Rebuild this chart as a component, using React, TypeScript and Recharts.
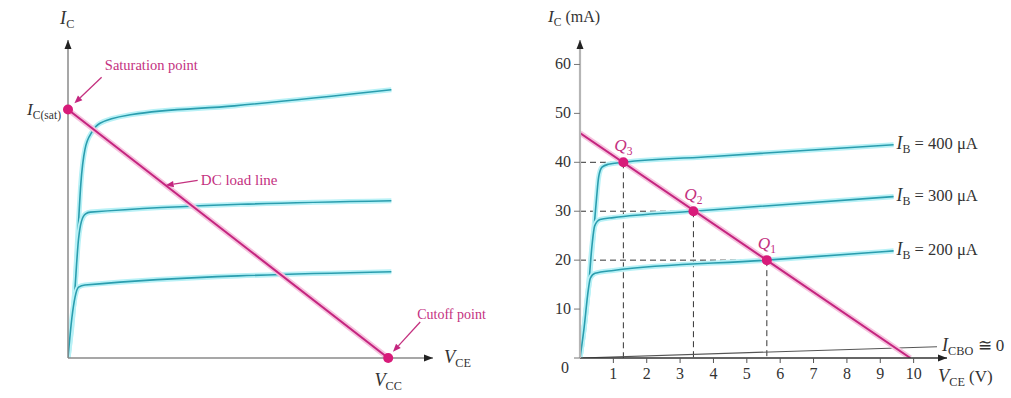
import { LineChart, Line, XAxis, YAxis, ReferenceLine, ReferenceDot } from "recharts";

// ---- left panel: qualitative (VCC = 10, IC(sat) = 10 in arbitrary units)
const leftTop = [
  [0, 0], [0.19, 2.3], [0.33, 5.5], [0.4, 7.0], [0.53, 8.4], [0.75, 9.1], [1, 9.45],
  [2, 9.8], [5.2, 10.15], [10.1, 10.8],
];
const leftMid = [
  [0, 0], [0.19, 2.3], [0.33, 4.8], [0.42, 5.5], [0.55, 5.8], [0.7, 5.87], [10.1, 6.33],
];
const leftLow = [
  [0, 0], [0.12, 1.6], [0.22, 2.45], [0.33, 2.85], [0.53, 2.94], [10.1, 3.47],
];
const leftLoad = [[0, 10], [10, 0]];

// ---- right panel: IC (mA) vs VCE (V)
const ib400 = [
  [0, 0], [0.12, 6], [0.25, 14], [0.4, 25], [0.5, 33], [0.56, 37], [0.66, 39],
  [0.85, 39.6], [1.3, 40], [4, 41.2], [9.4, 43.6],
];
const ib300 = [
  [0, 0], [0.12, 6], [0.25, 14], [0.36, 23], [0.44, 27], [0.6, 28.3], [1, 28.7],
  [3.4, 30], [9.4, 33],
];
const ib200 = [
  [0, 0], [0.12, 6], [0.25, 14], [0.31, 16.3], [0.45, 17.3], [1, 17.9], [5.6, 20], [9.4, 21.9],
];
const icbo = [[0, 0], [10.7, 2.3]];
const rightLoad = [[0, 46], [9.9, 0]];
const qPoints = [
  { name: "3", x: 1.3, y: 40 },
  { name: "2", x: 3.4, y: 30 },
  { name: "1", x: 5.6, y: 20 },
];
const ibLabels = [
  { text: "400", x: 9.4, y: 43.6 },
  { text: "300", x: 9.4, y: 33 },
  { text: "200", x: 9.4, y: 21.9 },
];
const xTicks = [1, 2, 3, 4, 5, 6, 7, 8, 9, 10];
const yTicks = [0, 10, 20, 30, 40, 50, 60];

const serif = "'Liberation Serif', 'DejaVu Serif', serif";
const teal = "#2a9dae";
const halo = "#b8f1f6";
const magenta = "#c4257f";
const pinkHalo = "#f6c3de";
const dotFill = "#d81b7a";
const labelPink = "#c4317f";

const pts = (a: number[][]) => a.map(([x, y]) => ({ x, y }));

const Sym = ({ x, y, main, sub, rest, anchor = "start", fill = "#333", size = 15 }: any) => (
  <text x={x} y={y} textAnchor={anchor} fill={fill} fontSize={size} fontFamily={serif}>
    <tspan fontStyle="italic" fontSize={size * 1.08}>{main}</tspan>
    {sub ? <tspan fontSize={size * 0.72} dy={4}>{sub}</tspan> : null}
    {rest ? <tspan dy={sub ? -4 : 0}>{rest}</tspan> : null}
  </text>
);

const Pointer = (p: any) => {
  const { x1, y1, x2, y2 } = p;
  const a = Math.atan2(y2 - y1, x2 - x1);
  const L = 8;
  const W = 3.2;
  const bx = x2 - L * Math.cos(a);
  const by = y2 - L * Math.sin(a);
  const nx = -Math.sin(a) * W;
  const ny = Math.cos(a) * W;
  return (
    <g>
      <line x1={x1} y1={y1} x2={bx} y2={by} stroke={labelPink} strokeWidth={1.3} />
      <polygon points={`${x2},${y2} ${bx + nx},${by + ny} ${bx - nx},${by - ny}`} fill={magenta} />
    </g>
  );
};

const arrowRight = (p: any) => (
  <polygon points={`${p.cx},${p.cy} ${p.cx - 9},${p.cy - 3.5} ${p.cx - 9},${p.cy + 3.5}`} fill="#222" />
);
const arrowUp = (p: any) => (
  <polygon points={`${p.cx},${p.cy} ${p.cx - 3.5},${p.cy + 9} ${p.cx + 3.5},${p.cy + 9}`} fill="#222" />
);

const curve = (key: string, data: number[][], color: string, glow: string, w = 1.6) => [
  <Line key={key + "h"} data={pts(data)} dataKey="y" type="monotone" stroke={glow} strokeWidth={w + 3.5}
    dot={false} activeDot={false} isAnimationActive={false} />,
  <Line key={key} data={pts(data)} dataKey="y" type="monotone" stroke={color} strokeWidth={w}
    dot={false} activeDot={false} isAnimationActive={false} />,
];

const YTick = (p: any) => {
  const v = p.payload.value;
  if (v === 0) {
    return <text x={p.x - 2} y={p.y + 15} textAnchor="end" fill="#333" fontSize={16} fontFamily={serif}>0</text>;
  }
  return <text x={p.x} y={p.y + 5} textAnchor="end" fill="#333" fontSize={16} fontFamily={serif}>{v}</text>;
};

const LeftChart = () => (
  <LineChart width={520} height={398} margin={{ top: 40, right: 87, bottom: 10, left: 0 }}>
    <XAxis type="number" dataKey="x" domain={[0, 11.4]} tick={false} tickLine={false} height={30}
      axisLine={{ stroke: "#8a8a8a", strokeWidth: 1.5 }} allowDataOverflow />
    <YAxis type="number" domain={[0, 12.8]} tick={false} tickLine={false} width={68}
      axisLine={{ stroke: "#8a8a8a", strokeWidth: 1.5 }} allowDataOverflow />
    {curve("lt", leftTop, teal, halo)}
    {curve("lm", leftMid, teal, halo)}
    {curve("ll", leftLow, teal, halo)}
    {curve("load", leftLoad, magenta, pinkHalo, 2)}
    <ReferenceDot x={11.4} y={0} ifOverflow="visible" shape={arrowRight} />
    <ReferenceDot x={0} y={12.8} ifOverflow="visible" shape={arrowUp} />
    <ReferenceDot x={0} y={10} r={5} fill={dotFill} stroke="none" ifOverflow="visible" />
    <ReferenceDot x={10} y={0} r={5} fill={dotFill} stroke="none" ifOverflow="visible" />
    <ReferenceLine segment={[{ x: 1.05, y: 11.3 }, { x: 0.2, y: 10.25 }]} ifOverflow="visible" shape={Pointer} />
    <ReferenceLine segment={[{ x: 4.05, y: 7.15 }, { x: 3.05, y: 6.95 }]} ifOverflow="visible" shape={Pointer} />
    <ReferenceLine segment={[{ x: 11.0, y: 1.45 }, { x: 10.15, y: 0.25 }]} ifOverflow="visible" shape={Pointer} />
    <ReferenceDot x={0} y={12.8} ifOverflow="visible"
      shape={(p: any) => <Sym x={p.cx - 8} y={p.cy - 16} main="I" sub="C" size={17} />} />
    <ReferenceDot x={0} y={10} ifOverflow="visible"
      shape={(p: any) => <Sym x={p.cx - 7} y={p.cy + 5} main="I" sub="C(sat)" anchor="end" size={16} />} />
    <ReferenceDot x={1.15} y={11.45} ifOverflow="visible"
      shape={(p: any) => <text x={p.cx} y={p.cy - 4} fill={labelPink} fontSize={14.5} fontFamily={serif}>Saturation point</text>} />
    <ReferenceDot x={4.15} y={7.15} ifOverflow="visible"
      shape={(p: any) => <text x={p.cx} y={p.cy + 5} fill={labelPink} fontSize={15} fontFamily={serif}>DC load line</text>} />
    <ReferenceDot x={11.0} y={1.45} ifOverflow="visible"
      shape={(p: any) => <text x={p.cx - 3} y={p.cy - 3} fill={labelPink} fontSize={14} fontFamily={serif}>Cutoff point</text>} />
    <ReferenceDot x={11.4} y={0} ifOverflow="visible"
      shape={(p: any) => <Sym x={p.cx + 11} y={p.cy + 5} main="V" sub="CE" size={17} />} />
    <ReferenceDot x={10} y={0} ifOverflow="visible"
      shape={(p: any) => <Sym x={p.cx} y={p.cy + 28} main="V" sub="CC" anchor="middle" size={17} />} />
  </LineChart>
);

const RightChart = () => (
  <LineChart width={491} height={398} margin={{ top: 40, right: 64, bottom: 10, left: 0 }}>
    <XAxis type="number" dataKey="x" domain={[0, 11]} ticks={xTicks} height={30} tickSize={5} tickMargin={5}
      axisLine={{ stroke: "#333", strokeWidth: 1.6 }} tickLine={{ stroke: "#555" }}
      tick={{ fill: "#333", fontSize: 16, fontFamily: serif }} allowDataOverflow />
    <YAxis type="number" domain={[0, 65]} ticks={yTicks} width={60} tickSize={6} tickMargin={3}
      axisLine={{ stroke: "#b5b5b5", strokeWidth: 2.2 }} tickLine={{ stroke: "#777" }}
      tick={YTick} allowDataOverflow />
    {qPoints.map((q) => (
      <ReferenceLine key={"h" + q.name} segment={[{ x: 0, y: q.y }, { x: q.x, y: q.y }]}
        stroke="#333" strokeDasharray="6 4" strokeWidth={1} ifOverflow="visible" />
    ))}
    {qPoints.map((q) => (
      <ReferenceLine key={"v" + q.name} segment={[{ x: q.x, y: q.y }, { x: q.x, y: 0 }]}
        stroke="#333" strokeDasharray="6 4" strokeWidth={1} ifOverflow="visible" />
    ))}
    <Line data={pts(icbo)} dataKey="y" type="linear" stroke="#555" strokeWidth={1.2}
      dot={false} activeDot={false} isAnimationActive={false} />
    {curve("i4", ib400, teal, halo)}
    {curve("i3", ib300, teal, halo)}
    {curve("i2", ib200, teal, halo)}
    {curve("rl", rightLoad, magenta, pinkHalo, 2)}
    {qPoints.map((q) => (
      <ReferenceDot key={"d" + q.name} x={q.x} y={q.y} r={5} fill={dotFill} stroke="none" ifOverflow="visible" />
    ))}
    {qPoints.map((q) => (
      <ReferenceDot key={"l" + q.name} x={q.x} y={q.y} ifOverflow="visible"
        shape={(p: any) => <Sym x={p.cx} y={p.cy - 11} main="Q" sub={q.name} anchor="middle" fill={labelPink} size={16} />} />
    ))}
    {ibLabels.map((l) => (
      <ReferenceDot key={"ib" + l.text} x={l.x} y={l.y} ifOverflow="visible"
        shape={(p: any) => <Sym x={p.cx + 3} y={p.cy + 4} main="I" sub="B" rest={` = ${l.text} μA`} size={16.5} />} />
    ))}
    <ReferenceDot x={10.7} y={2.3} ifOverflow="visible"
      shape={(p: any) => <Sym x={p.cx + 5} y={p.cy + 4} main="I" sub="CBO" rest=" ≅ 0" size={17} />} />
    <ReferenceDot x={11} y={0} ifOverflow="visible" shape={arrowRight} />
    <ReferenceDot x={0} y={65} ifOverflow="visible" shape={arrowUp} />
    <ReferenceDot x={11} y={0} ifOverflow="visible"
      shape={(p: any) => <Sym x={p.cx - 9} y={p.cy + 24} main="V" sub="CE" rest=" (V)" size={17} />} />
    <ReferenceDot x={0} y={65} ifOverflow="visible"
      shape={(p: any) => <Sym x={p.cx - 32} y={p.cy - 18} main="I" sub="C" rest=" (mA)" size={16} />} />
  </LineChart>
);

export default function App() {
  return (
    <div style={{ position: "absolute", left: 0, top: 0, width: 1011, height: 398, background: "#fff" }}>
      <div style={{ position: "absolute", left: 0, top: 0 }}>
        <LeftChart />
      </div>
      <div style={{ position: "absolute", left: 520, top: 0 }}>
        <RightChart />
      </div>
    </div>
  );
}
